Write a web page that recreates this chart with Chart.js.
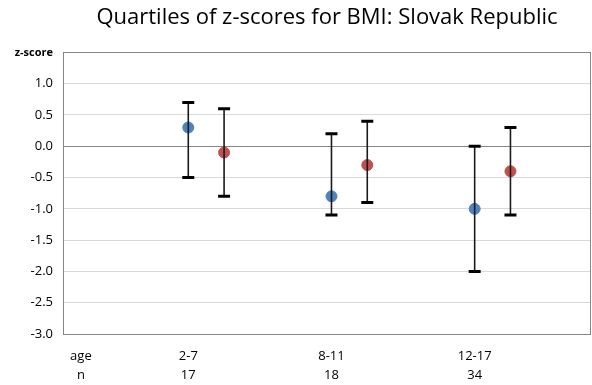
<!DOCTYPE html>
<html>
<head>
<meta charset="utf-8">
<script src="https://cdn.jsdelivr.net/npm/chart.js@4"></script>
<style>
  html, body { margin: 0; padding: 0; background: #fff; }
  #wrap { width: 592px; height: 385px; }
</style>
</head>
<body>
<div id="wrap"><canvas id="chart" width="592" height="385"></canvas></div>
<script>
// categories along the x axis (first one is the row header)
const groups = ["age", "2-7", "8-11", "12-17"];
const counts = ["n", "17", "18", "34"];
const tickPos = [0.5, 3.5, 7.5, 11.5];

// x position of each series inside its group
const bluePos = [3.5, 7.5, 11.5];
const redPos = [4.5, 8.5, 12.5];

// quartiles: lower (Q1), median, upper (Q3)
const blueMedian = [0.3, -0.8, -1.0];
const blueLow = [-0.5, -1.1, -2.0];
const blueHigh = [0.7, 0.2, 0.0];
const redMedian = [-0.1, -0.3, -0.4];
const redLow = [-0.8, -0.9, -1.1];
const redHigh = [0.6, 0.4, 0.3];

// build whisker segments: hi, lo, gap
function whiskers(xs, lo, hi) {
  const pts = [];
  xs.forEach((x, i) => {
    pts.push({ x: x, y: hi[i] });
    pts.push({ x: x, y: lo[i] });
    pts.push({ x: x, y: null });
  });
  return pts;
}

function points(xs, ys) {
  return xs.map((x, i) => ({ x: x, y: ys[i] }));
}

const whiskerStyle = {
  type: "line",
  borderColor: "#1a1a1a",
  borderWidth: 1.6,
  pointStyle: "line",
  pointRadius: 6,
  pointBorderWidth: 3,
  pointBorderColor: "#000",
  spanGaps: false,
  fill: false,
};

// plot frame like the spreadsheet chart
const frame = {
  id: "frame",
  afterDraw(chart) {
    const a = chart.chartArea;
    const ctx = chart.ctx;
    ctx.save();
    ctx.strokeStyle = "#868686";
    ctx.lineWidth = 1;
    ctx.strokeRect(Math.round(a.left) + 0.5, Math.round(a.top) + 0.5,
      Math.round(a.right - a.left) - 1, Math.round(a.bottom - a.top));
    ctx.restore();
  },
};

new Chart(document.getElementById("chart").getContext("2d"), {
  type: "scatter",
  data: {
    datasets: [
      Object.assign({ label: "blue q", data: whiskers(bluePos, blueLow, blueHigh) }, whiskerStyle),
      Object.assign({ label: "red q", data: whiskers(redPos, redLow, redHigh) }, whiskerStyle),
      {
        label: "blue",
        data: points(bluePos, blueMedian),
        backgroundColor: "#4F81BD",
        borderColor: "#4F81BD",
        pointRadius: 5.5,
      },
      {
        label: "red",
        data: points(redPos, redMedian),
        backgroundColor: "#C0504D",
        borderColor: "#C0504D",
        pointRadius: 5.5,
      },
    ],
  },
  options: {
    responsive: false,
    animation: false,
    layout: { autoPadding: false, padding: { left: 0, right: 1, top: 0, bottom: 0 } },
    plugins: {
      legend: { display: false },
      tooltip: { enabled: false },
      title: {
        display: true,
        fullSize: false,
        text: "Quartiles of z-scores for BMI: Slovak Republic",
        color: "#000",
        font: { family: "Open Sans", size: 22, weight: "normal", lineHeight: 1.2 },
        padding: { top: 5, bottom: 21 },
      },
    },
    scales: {
      x: {
        type: "linear",
        min: 0,
        max: 14.75,
        afterBuildTicks: (scale) => {
          scale.ticks = tickPos.map((v) => ({ value: v }));
        },
        afterFit: (scale) => { scale.height = 51; },
        ticks: {
          autoSkip: false,
          maxRotation: 0,
          color: "#000",
          padding: 5,
          font: { family: "Open Sans", size: 13, lineHeight: 1.45 },
          callback: (v, i) => [groups[i], counts[i]],
        },
        grid: { display: false },
        border: { display: false },
      },
      y: {
        min: -3,
        max: 1.5,
        afterFit: (scale) => { scale.width = 63; },
        ticks: {
          stepSize: 0.5,
          color: "#000",
          padding: 10,
          font: (ctx) => ctx.tick && ctx.tick.value === 1.5
            ? { family: "Open Sans", size: 11, weight: "bold" }
            : { family: "Open Sans", size: 13 },
          callback: (v) => (v === 1.5 ? "z-score" : v.toFixed(1)),
        },
        grid: {
          drawTicks: false,
          color: (ctx) => (ctx.tick && ctx.tick.value === 0 ? "#868686" : "#D9D9D9"),
        },
        border: { display: false },
      },
    },
  },
  plugins: [frame],
});
</script>
</body>
</html>
